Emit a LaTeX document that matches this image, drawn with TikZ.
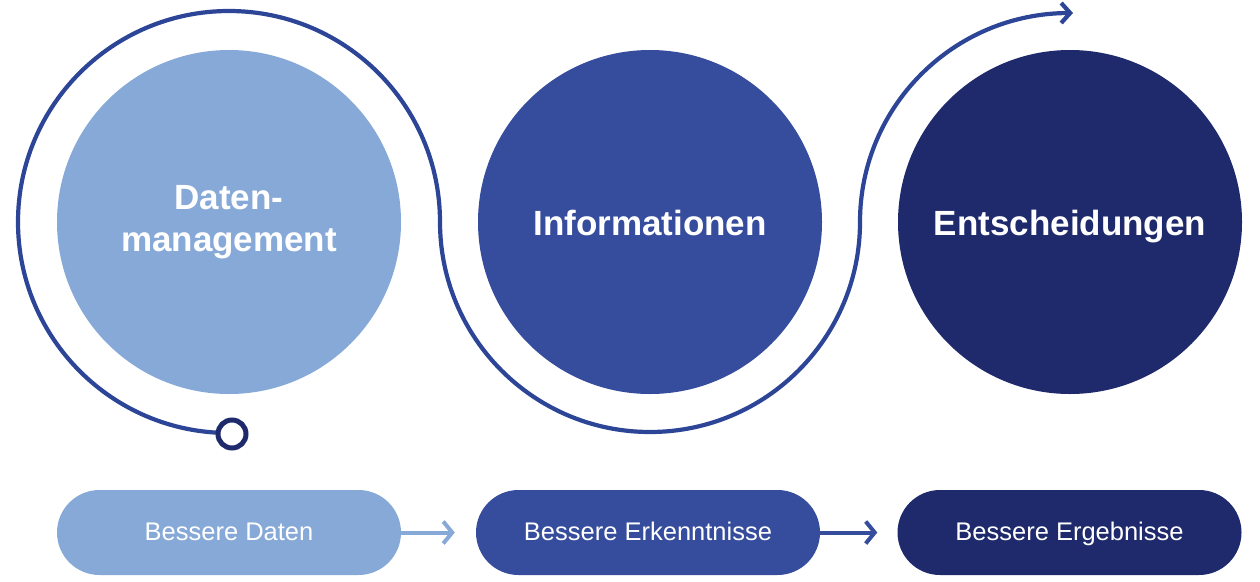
\documentclass[tikz,border=0pt]{standalone}
\usepackage{fontspec}
\setmainfont{Liberation Sans}
\usetikzlibrary{arrows.meta}
\definecolor{cone}{HTML}{87A9D8}
\definecolor{ctwo}{HTML}{364C9C}
\definecolor{cthree}{HTML}{1E2A6C}
\definecolor{cline}{HTML}{2C4597}
\begin{document}
\begin{tikzpicture}[x=1pt,y=1pt,
  bigcirc/.style={circle,minimum size=344pt,inner sep=0pt,text=white,align=center,
    font=\fontsize{35}{42}\selectfont\bfseries},
  oneline/.style={text height=26pt,text depth=0pt},
  pill/.style={rounded corners=42.5pt,minimum width=344pt,minimum height=85pt,inner sep=0pt,
    text=white,text height=20pt,text depth=5pt,font=\fontsize{25.5}{28}\selectfont},
  flow/.style={line width=4.2pt,draw=cline},
  pillarrow/.style={line width=4pt,-{Straight Barb[length=9pt,width=22pt]}}]
\useasboundingbox (0,0) rectangle (1260,-581);
% circles
\node[bigcirc,fill=cone] (c1) at (229,-222) {Daten-\\management};
\node[bigcirc,oneline,fill=ctwo] (c2) at (650,-222) {Informationen};
\node[bigcirc,oneline,fill=cthree] (c3) at (1070,-222) {Entscheidungen};
% flowing curve
\coordinate (s) at (229,-433);
\draw[flow,-{Straight Barb[length=9pt,width=20pt]}] (s)
  arc[start angle=-90,end angle=-360,radius=211]
  arc[start angle=180,end angle=360,radius=210]
  arc[start angle=180,end angle=90,radius=209]
  coordinate (e) -- ([xshift=4pt]e);
\node[circle,draw=cthree,fill=white,line width=5pt,minimum size=28pt,inner sep=0pt] (ring) at (232,-434) {};
% pills
\node[pill,fill=cone] (p1) at (229,-532.5) {Bessere Daten};
\node[pill,fill=ctwo] (p2) at (648,-532.5) {Bessere Erkenntnisse};
\node[pill,fill=cthree] (p3) at (1069.5,-532.5) {Bessere Ergebnisse};
\draw[pillarrow,draw=cone,shorten >=21pt] (p1.east) -- (p2.west);
\draw[pillarrow,draw=ctwo,shorten >=20pt] (p2.east) -- (p3.west);
\end{tikzpicture}
\end{document}
